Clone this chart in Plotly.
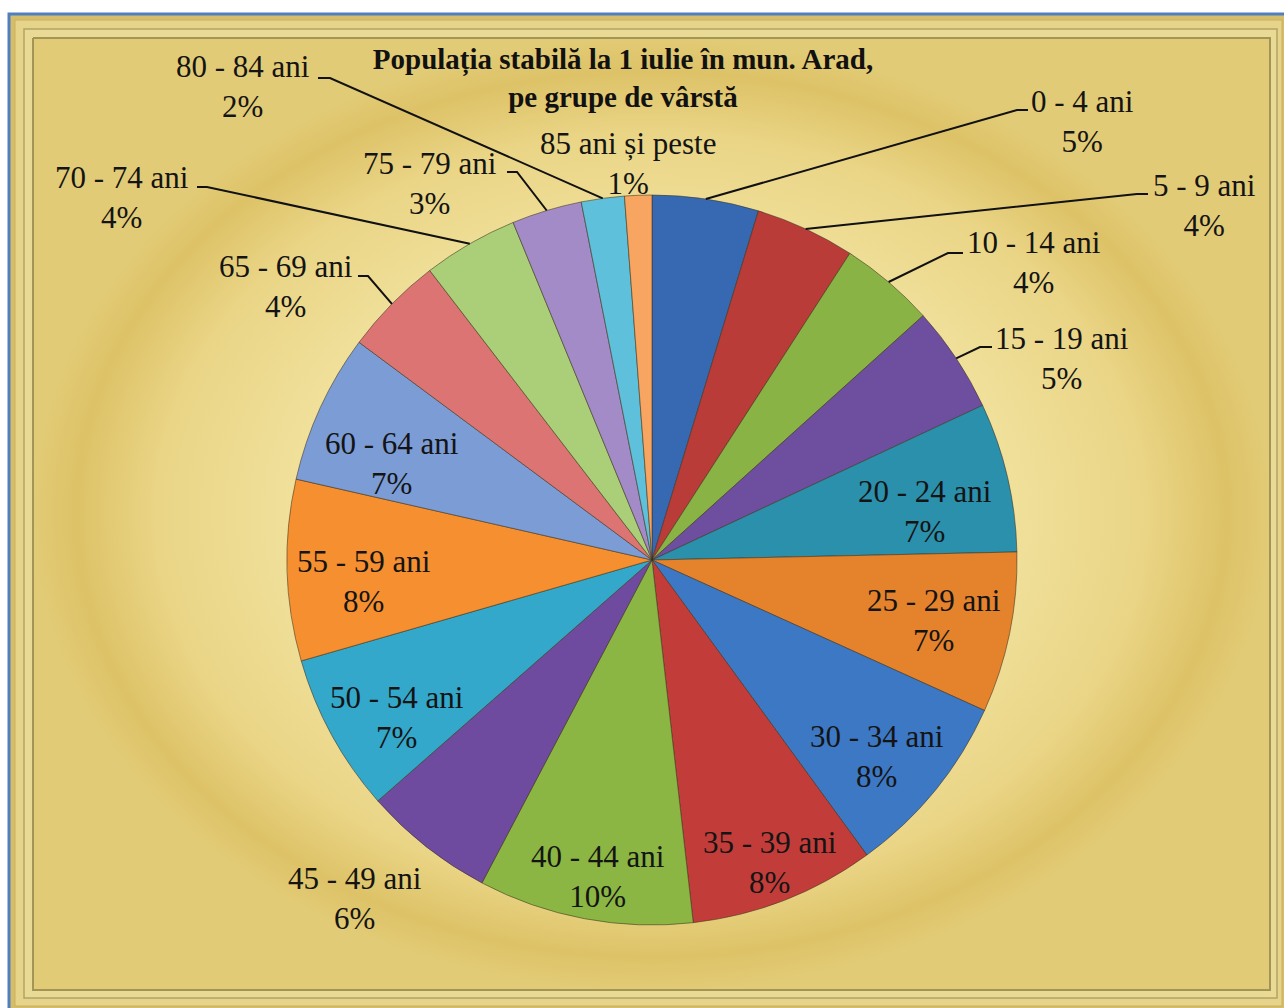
import math
import plotly.graph_objects as go

# ---------------- data ----------------
age_groups = ["0 - 4 ani", "5 - 9 ani", "10 - 14 ani", "15 - 19 ani", "20 - 24 ani",
              "25 - 29 ani", "30 - 34 ani", "35 - 39 ani", "40 - 44 ani", "45 - 49 ani",
              "50 - 54 ani", "55 - 59 ani", "60 - 64 ani", "65 - 69 ani", "70 - 74 ani",
              "75 - 79 ani", "80 - 84 ani", "85 ani și peste"]
shares = [4.7, 4.4, 4.2, 4.7, 6.6, 7.1, 8.2, 8.2, 9.5, 5.8,
          7.0, 8.0, 6.6, 4.4, 4.2, 3.1, 1.9, 1.2]
title_text = "Populația stabilă la 1 iulie în mun. Arad,<br>pe grupe de vârstă"

# ---------------- style ----------------
colors = ["#3669B2", "#B93C39", "#8AB345", "#6E4E9E", "#2B90AC", "#E5822C",
          "#3D78C4", "#C23D3A", "#8BB643", "#6F4BA0", "#33A8CA", "#F58F2F",
          "#7C9CD6", "#DB7473", "#AACF78", "#A28BC6", "#5EC0DA", "#F7A561"]

W, H = 1284, 1008
PIE_CX, PIE_CY, PIE_R = 652, 560, 365
FONT = "Liberation Serif, Times New Roman, serif"

# inside labels: radial fraction and angle nudge (deg)
inside_cfg = {4: (0.76, 3), 5: (0.79, 0.5), 6: (0.82, 2), 7: (0.89, 0), 8: (0.88, -1),
              10: (0.82, -3), 11: (0.79, -2.6), 12: (0.76, -4.4)}
# outside labels: label centre, elbow point, end of horizontal tick (None = no leader)
outside_cfg = {
    0: ((1082, 121), (1017, 110), (1028, 110)),
    1: ((1204, 205), (1137, 194), (1148, 194)),
    2: ((1034, 262), (948, 253), (963, 253)),
    3: ((1062, 358), (980, 347), (992, 347)),
    9: ((355, 898), None, None),
    13: ((286, 286), (368, 276), (358, 276)),
    14: ((122, 197), (207, 187), (197, 187)),
    15: ((430, 183), (517, 172), (507, 172)),
    16: ((243, 86), (330, 78), (318, 78)),
    17: ((628, 163), None, None),
}

total = sum(shares)

fig = go.Figure()

# gradient background panel
fig.add_trace(go.Scatter(
    x=[33, 1270, 1270, 33, 33], y=[38, 38, 990, 990, 38],
    mode="lines", fill="toself",
    fillgradient=dict(type="radial",
                      colorscale=[[0, "#F7EEBB"], [0.5, "#F2E4A2"], [0.8, "#EAD586"],
                                  [0.93, "#DDC267"], [1, "#E2CB76"]]),
    line=dict(color="#A39555", width=2),
    hoverinfo="skip", showlegend=False))

fig.add_trace(go.Pie(
    labels=age_groups, values=shares, sort=False, direction="clockwise", rotation=0,
    marker=dict(colors=colors, line=dict(color="rgba(60,50,30,0.55)", width=1)),
    textinfo="none", hoverinfo="label+percent", showlegend=False,
    domain=dict(x=[(PIE_CX - PIE_R) / W, (PIE_CX + PIE_R) / W],
                y=[1 - (PIE_CY + PIE_R) / H, 1 - (PIE_CY - PIE_R) / H])))

shapes = [
    dict(type="rect", xref="x", yref="y", x0=9, y0=14, x1=1300, y1=1020, layer="below",
         fillcolor="#D5BD6A", line=dict(color="#4F7FBF", width=3)),
    dict(type="rect", xref="x", yref="y", x0=15, y0=20, x1=1282, y1=1006, layer="below",
         fillcolor="#E6D48A", line=dict(color="#C9B062", width=1)),
    dict(type="rect", xref="x", yref="y", x0=24, y0=29, x1=1277, y1=998, layer="below",
         fillcolor="#E9DA96", line=dict(color="#B4A464", width=1.5)),
]
annotations = []

cum = 0.0
for i, (lab, v) in enumerate(zip(age_groups, shares)):
    mid = (cum + v / 2) / total * 360.0
    cum += v
    pct = round(v / total * 100)
    text = f"{lab}<br>{pct}%"
    if i in inside_cfg:
        rf, dth = inside_cfg[i]
        a = math.radians(mid + dth)
        x = PIE_CX + rf * PIE_R * math.sin(a)
        y = PIE_CY - rf * PIE_R * math.cos(a)
    else:
        (x, y), elbow, end = outside_cfg[i]
        if elbow is not None:
            a = math.radians(mid)
            tx = PIE_CX + PIE_R * math.sin(a)
            ty = PIE_CY - PIE_R * math.cos(a)
            shapes.append(dict(type="path", xref="x", yref="y", layer="above",
                               path=f"M {tx:.1f},{ty:.1f} L {elbow[0]},{elbow[1]} L {end[0]},{end[1]}",
                               line=dict(color="#111111", width=2)))
    annotations.append(dict(x=x, y=y, xref="x", yref="y", text=text, showarrow=False,
                            xanchor="center", yanchor="middle", align="center",
                            font=dict(family=FONT, size=31, color="#141414")))

fig.update_layout(
    width=W, height=H, margin=dict(l=0, r=0, t=0, b=0),
    paper_bgcolor="white", plot_bgcolor="rgba(0,0,0,0)",
    xaxis=dict(range=[0, W], visible=False, fixedrange=True),
    yaxis=dict(range=[H, 0], visible=False, fixedrange=True),
    showlegend=False,
    shapes=shapes, annotations=annotations,
    title=dict(text=title_text, x=623 / W, xanchor="center", y=1 - 69 / H, yanchor="middle",
               font=dict(family=FONT, size=29, color="#111111", weight="bold")),
)

fig.write_html("out.html", config={"displayModeBar": False},
               post_script="document.body.style.margin='0';")
